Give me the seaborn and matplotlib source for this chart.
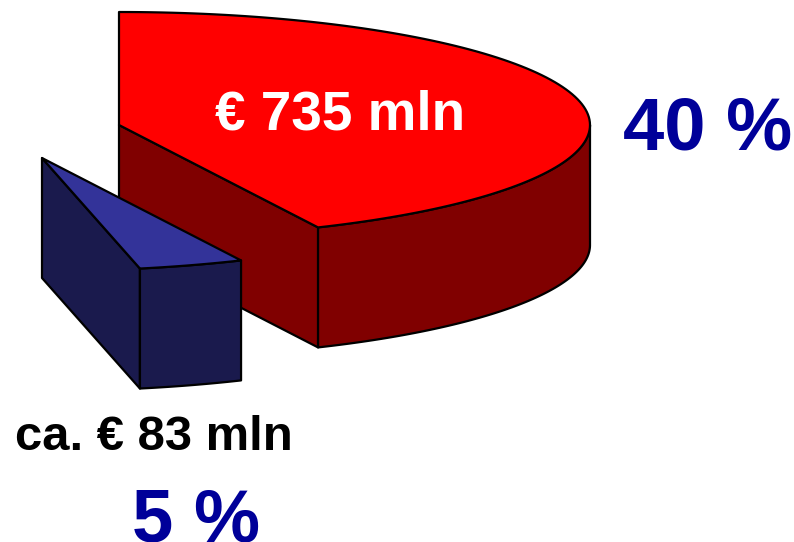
import matplotlib.pyplot as plt
import numpy as np
import seaborn as sns

slice_names = ['main', 'small']
slice_amounts = ['€ 735 mln', 'ca. € 83 mln']
slice_shares = ['40 %', '5 %']
slice_sweeps = [155, 13]
top_colors = ['#ff0000', '#333399']
side_colors = ['#800000', '#1a1a4d']

sns.set_theme(style='white')
plt.rcParams['font.family'] = ['Liberation Sans', 'DejaVu Sans']

# pie geometry in pixels
center_x, center_y = 119, 125
radius_x, radius_y = 471, 113
depth = 120
start_angle = 90
explode = [(0, 0), (-77, 33)]


def rim(cx, cy, a0, a1):
    t = np.radians(np.linspace(a0, a1, 120))
    return cx + radius_x * np.cos(t), cy - radius_y * np.sin(t)


def draw_slice(cx, cy, a0, a1, top, side):
    line = dict(edgecolor='black', linewidth=1.6, joinstyle='round')
    x, y = rim(cx, cy, a0, a1)
    # cut face at the end of the sweep
    ax.fill([cx, x[-1], x[-1], cx], [cy, y[-1], y[-1] + depth, cy + depth], color=side, **line)
    # outer wall, only the part below the widest point faces the viewer
    wx, wy = rim(cx, cy, min(a0, 0), a1)
    ax.fill(np.r_[wx, wx[::-1]], np.r_[wy, wy[::-1] + depth], color=side, **line)
    ax.fill(np.r_[cx, x], np.r_[cy, y], color=top, **line)


fig = plt.figure(figsize=(7.94, 5.42), dpi=100)
ax = fig.add_axes([0, 0, 1, 1])
ax.set_xlim(0, 794)
ax.set_ylim(542, 0)
ax.axis('off')

angle = start_angle
for i, name in enumerate(slice_names):
    dx, dy = explode[i]
    draw_slice(center_x + dx, center_y + dy, angle, angle - slice_sweeps[i], top_colors[i], side_colors[i])
    angle -= slice_sweeps[i]

ax.text(215, 130, slice_amounts[0], color='white', fontsize=39.5, fontweight='bold')
ax.text(15, 450, slice_amounts[1], color='black', fontsize=35.3, fontweight='bold')
ax.text(623, 149, slice_shares[0], color='#000099', fontsize=53.5, fontweight='bold')
ax.text(132, 542, slice_shares[1], color='#000099', fontsize=53.5, fontweight='bold')

plt.savefig('out.png', dpi=100)
